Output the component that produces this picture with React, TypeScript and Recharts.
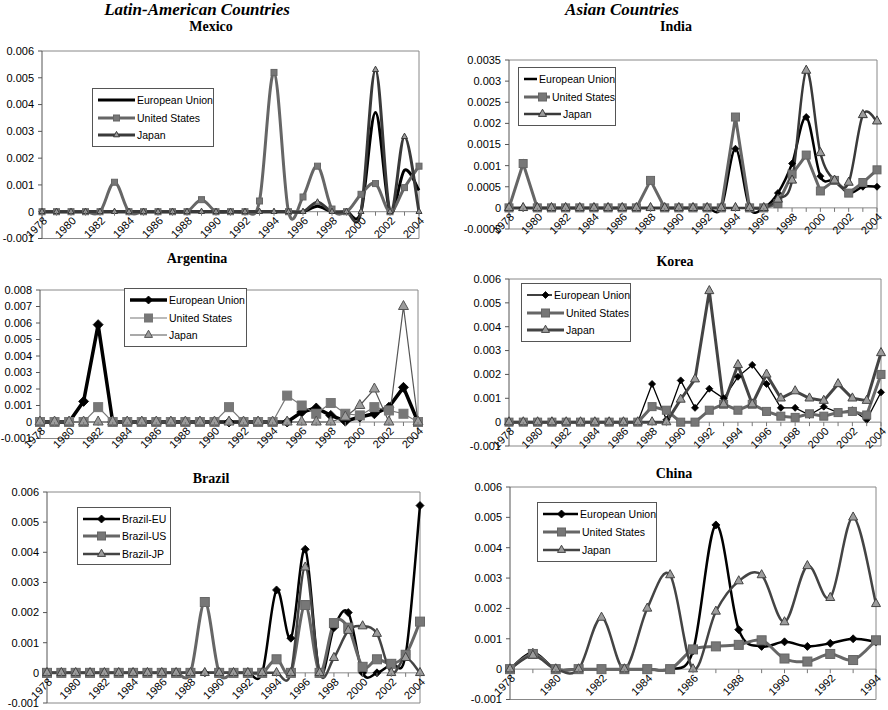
import React from "react";
import { Legend, Line, LineChart, ReferenceLine, XAxis, YAxis } from "recharts";

// ---- data ----
const years = [
  "1978", "1979", "1980", "1981", "1982", "1983", "1984", "1985", "1986", "1987",
  "1988", "1989", "1990", "1991", "1992", "1993", "1994", "1995", "1996", "1997",
  "1998", "1999", "2000", "2001", "2002", "2003", "2004",
];
const yearLabels = ["1978", "1980", "1982", "1984", "1986", "1988", "1990", "1992", "1994", "1996", "1998", "2000", "2002", "2004"];
const chinaYears = [
  "1978", "1979", "1980", "1981", "1982", "1983", "1984", "1985", "1986", "1987",
  "1988", "1989", "1990", "1991", "1992", "1993", "1994",
];
const chinaLabels = ["1978", "1980", "1982", "1984", "1986", "1988", "1990", "1992", "1994"];

const mexicoEU = [0, 0, 0, 0, 0, 0, 0, 0, 0, 0, 0, 0, 0, 0, 0, 0, 0, 0, 0, 0.0002, 0, 0, 0, 0.0037, 0, 0.00155, 0.0008];
const mexicoUS = [0, 0, 0, 0, 0, 0.0011, 0, 0, 0, 0, 0, 0.00045, 0, 0, 0, 0.0004, 0.0052, 0, 0.00055, 0.0017, 0.0001, 0, 0.00065, 0.00105, 0, 0.0009, 0.0017];
const mexicoJP = [0, 0, 0, 0, 0, 0, 0, 0, 0, 0, 0, 0, 0, 0, 0, 0, 0, 0, 0, 0.00035, 0, 0, 0, 0.0053, 0, 0.0028, 0];

const indiaEU = [0, 0, 0, 0, 0, 0, 0, 0, 0, 0, 0, 0, 0, 0, 0, 0, 0.0014, 0, 0, 0.00035, 0.00105, 0.00215, 0.00075, 0.00065, 0.00035, 0.0005, 0.0005];
const indiaUS = [0, 0.00105, 0, 0, 0, 0, 0, 0, 0, 0, 0.00065, 0, 0, 0, 0, 0, 0.00215, 0, 0, 0.0001, 0.0008, 0.00125, 0.0004, 0.00065, 0.00035, 0.0006, 0.0009];
const indiaJP = [0, 0, 0, 0, 0, 0, 0, 0, 0, 0, 0, 0, 0, 0, 0, 0, 0, 0, 0, 0.0002, 0.00065, 0.00325, 0.0013, 0.00065, 0.0006, 0.0022, 0.00205];

const argentinaEU = [0, 0, 0, 0.00125, 0.0059, 0, 0, 0, 0, 0, 0, 0, 0, 0, 0, 0, 0, 0, 0.0006, 0.00085, 0.0004, 0.00005, 0.0003, 0.0005, 0.0009, 0.0021, 0];
const argentinaUS = [0, 0, 0, 0, 0.0009, 0, 0, 0, 0, 0, 0, 0, 0, 0.0009, 0, 0, 0, 0.0016, 0.001, 0.0005, 0.00115, 0.0005, 0.0004, 0.0009, 0.0007, 0.0005, 0];
const argentinaJP = [0, 0, 0, 0, 0, 0, 0, 0, 0, 0, 0, 0, 0, 0, 0, 0, 0, 0, 0, 0, 0, 0.0003, 0.001, 0.002, 0, 0.007, 0];

const koreaEU = [0, 0, 0, 0, 0, 0, 0, 0, 0, 0, 0.0016, 0.0001, 0.00175, 0.0006, 0.0014, 0.001, 0.0019, 0.0024, 0.0016, 0.0006, 0.0006, 0.0003, 0.00065, 0.0004, 0.0005, 0.0001, 0.00125];
const koreaUS = [0, 0, 0, 0, 0, 0, 0, 0, 0, 0, 0.00065, 0.0005, 0, 0, 0.0005, 0.00075, 0.0005, 0.00075, 0.00045, 0.00025, 0.0002, 0.00035, 0.00025, 0.0004, 0.00045, 0.0003, 0.002];
const koreaJP = [0, 0, 0, 0, 0, 0, 0, 0, 0, 0, 0, 0, 0.00095, 0.0018, 0.0055, 0.00075, 0.0024, 0.00075, 0.002, 0.001, 0.0013, 0.001, 0.0009, 0.0016, 0.001, 0.0009, 0.0029];

const brazilEU = [0, 0, 0, 0, 0, 0, 0, 0, 0, 0, 0, 0, 0, 0, 0, 0, 0.00275, 0.00115, 0.0041, 0, 0.0015, 0.002, 0, 0, 0.0003, 0.0006, 0.00555];
const brazilUS = [0, 0, 0, 0, 0, 0, 0, 0, 0, 0, 0, 0.00235, 0, 0, 0, 0, 0.00045, 0, 0.00225, 0, 0.00165, 0.0015, 0.0002, 0.00045, 0.0003, 0.0006, 0.0017];
const brazilJP = [0, 0, 0, 0, 0, 0, 0, 0, 0, 0, 0, 0, 0, 0, 0, 0, 0, 0, 0.0035, 0, 0.0005, 0.0014, 0.00155, 0.0013, 0, 0.0005, 0];

const chinaEU = [0, 0.00055, 0, 0, 0, 0, 0, 0, 0.0006, 0.00475, 0.0013, 0.00075, 0.0009, 0.00075, 0.00085, 0.001, 0.0009];
const chinaUS = [0, 0.0005, 0, 0, 0, 0, 0, 0, 0.00065, 0.00075, 0.0008, 0.00095, 0.00035, 0.00025, 0.0005, 0.0003, 0.00095];
const chinaJP = [0, 0.00045, 0, 0, 0.0017, 0, 0.002, 0.0031, 0, 0.0019, 0.0029, 0.0031, 0.00155, 0.0034, 0.00235, 0.005, 0.00215];

const ticks6 = [-0.001, 0, 0.001, 0.002, 0.003, 0.004, 0.005, 0.006];
const ticks8 = [-0.001, 0, 0.001, 0.002, 0.003, 0.004, 0.005, 0.006, 0.007, 0.008];
const ticksIndia = [-0.0005, 0, 0.0005, 0.001, 0.0015, 0.002, 0.0025, 0.003, 0.0035];

// ---- drawing helpers ----
const SANS = "'Liberation Sans', Arial, sans-serif";
const SERIF = "'Liberation Serif', 'Times New Roman', serif";
const Y_W = 50;
const M_TOP = 6;
const M_RIGHT = 10;
const X_H = 30;

// Excel-style smoothed line (Catmull-Rom through the points)
const excelSmooth = (context: any) => {
  let pts: number[][] = [];
  return {
    areaStart() {},
    areaEnd() {},
    lineStart() {
      pts = [];
    },
    point(x: number, y: number) {
      pts.push([+x, +y]);
    },
    lineEnd() {
      if (!pts.length) return;
      context.moveTo(pts[0][0], pts[0][1]);
      for (let i = 0; i < pts.length - 1; i++) {
        const p0 = pts[Math.max(i - 1, 0)];
        const p1 = pts[i];
        const p2 = pts[i + 1];
        const p3 = pts[Math.min(i + 2, pts.length - 1)];
        context.bezierCurveTo(
          p1[0] + (p2[0] - p0[0]) / 6,
          p1[1] + (p2[1] - p0[1]) / 6,
          p2[0] - (p3[0] - p1[0]) / 6,
          p2[1] - (p3[1] - p1[1]) / 6,
          p2[0],
          p2[1]
        );
      }
    },
  };
};

type MarkerKind = "none" | "diamond" | "square" | "triangle";

interface SeriesCfg {
  key: string;
  name: string;
  values: number[];
  color: string;
  width: number;
  marker: MarkerKind;
  size: number;
  fill: string;
  smooth: boolean;
}

function Marker({ kind, cx, cy, size, fill, stroke }: { kind: MarkerKind; cx: number; cy: number; size: number; fill: string; stroke: string }) {
  if (kind === "diamond") {
    const r = size / 2;
    return <path d={`M${cx},${cy - r}L${cx + r},${cy}L${cx},${cy + r}L${cx - r},${cy}Z`} fill={fill} stroke={stroke} strokeWidth={0.8} />;
  }
  if (kind === "square") {
    return <rect x={cx - size / 2} y={cy - size / 2} width={size} height={size} fill={fill} stroke={stroke} strokeWidth={1} />;
  }
  if (kind === "triangle") {
    const h = size * 0.9;
    return (
      <path
        d={`M${cx},${cy - (h * 2) / 3}L${cx + size / 2},${cy + h / 3}L${cx - size / 2},${cy + h / 3}Z`}
        fill={fill}
        stroke={stroke}
        strokeWidth={1}
      />
    );
  }
  return null;
}

interface PanelCfg {
  title: string;
  titleX: number;
  titleY: number;
  years: string[];
  labels: string[];
  domain: [number, number];
  ticks: number[];
  plot: { left: number; top: number; right: number; bottom: number };
  legend: { left: number; top: number; width: number; height: number };
  series: SeriesCfg[];
}

const eu = (values: number[], name: string, width: number, marker: MarkerKind, size: number, smooth: boolean): SeriesCfg => ({
  key: "eu", name, values, color: "#000", width, marker, size, fill: "#000", smooth,
});
const us = (values: number[], name: string, width: number, color: string, size: number, smooth: boolean): SeriesCfg => ({
  key: "us", name, values, color, width, marker: "square", size, fill: "#777", smooth,
});
const jp = (values: number[], name: string, width: number, color: string, size: number, smooth: boolean): SeriesCfg => ({
  key: "jp", name, values, color, width, marker: "triangle", size, fill: "#9c9c9c", smooth,
});

const panels: PanelCfg[] = [
  {
    title: "Mexico", titleX: 211, titleY: 27, years, labels: yearLabels,
    domain: [-0.001, 0.006], ticks: ticks6,
    plot: { left: 42, top: 51, right: 419, bottom: 238.5 },
    legend: { left: 92, top: 88, width: 122, height: 59 },
    series: [
      eu(mexicoEU, "European Union", 3, "none", 0, true),
      us(mexicoUS, "United States", 3, "#666", 6, true),
      jp(mexicoJP, "Japan", 3, "#3a3a3a", 6, true),
    ],
  },
  {
    title: "India", titleX: 676, titleY: 27, years, labels: yearLabels,
    domain: [-0.0005, 0.0035], ticks: ticksIndia,
    plot: { left: 509, top: 60, right: 877, bottom: 229 },
    legend: { left: 518, top: 67, width: 98, height: 59 },
    series: [
      eu(indiaEU, "European Union", 2.5, "diamond", 7, true),
      us(indiaUS, "United States", 3, "#666", 8, false),
      jp(indiaJP, "Japan", 2.5, "#3a3a3a", 9, true),
    ],
  },
  {
    title: "Argentina", titleX: 197, titleY: 259, years, labels: yearLabels,
    domain: [-0.001, 0.008], ticks: ticks8,
    plot: { left: 40, top: 290, right: 418, bottom: 438.5 },
    legend: { left: 124, top: 288, width: 123, height: 59 },
    series: [
      eu(argentinaEU, "European Union", 3.5, "diamond", 10, false),
      us(argentinaUS, "United States", 1.2, "#777", 9, false),
      jp(argentinaJP, "Japan", 1.2, "#555", 10, false),
    ],
  },
  {
    title: "Korea", titleX: 675, titleY: 262, years, labels: yearLabels,
    domain: [-0.001, 0.006], ticks: ticks6,
    plot: { left: 509, top: 279, right: 881, bottom: 446 },
    legend: { left: 521, top: 283, width: 110, height: 59 },
    series: [
      eu(koreaEU, "European Union", 1.3, "diamond", 7, false),
      us(koreaUS, "United States", 3, "#666", 8, false),
      jp(koreaJP, "Japan", 3, "#444", 9, false),
    ],
  },
  {
    title: "Brazil", titleX: 211, titleY: 479, years, labels: yearLabels,
    domain: [-0.001, 0.006], ticks: ticks6,
    plot: { left: 47, top: 492, right: 420, bottom: 703 },
    legend: { left: 77, top: 507, width: 94, height: 58 },
    series: [
      eu(brazilEU, "Brazil-EU", 2.5, "diamond", 8, true),
      us(brazilUS, "Brazil-US", 3, "#666", 9, true),
      jp(brazilJP, "Brazil-JP", 2.5, "#444", 9, true),
    ],
  },
  {
    title: "China", titleX: 674, titleY: 474, years: chinaYears, labels: chinaLabels,
    domain: [-0.001, 0.006], ticks: ticks6,
    plot: { left: 510, top: 487, right: 876, bottom: 699.5 },
    legend: { left: 537, top: 502, width: 120, height: 60 },
    series: [
      eu(chinaEU, "European Union", 2.5, "diamond", 8, true),
      us(chinaUS, "United States", 3, "#666", 9, true),
      jp(chinaJP, "Japan", 2.5, "#444", 9, true),
    ],
  },
];

function Panel({ cfg }: { cfg: PanelCfg }) {
  const { plot, domain } = cfg;
  const left = plot.left - Y_W;
  const top = plot.top - M_TOP;
  const width = plot.right - plot.left + Y_W + M_RIGHT;
  const height = plot.bottom - plot.top + M_TOP + X_H;
  const plotH = plot.bottom - plot.top;
  const zeroY = M_TOP + (plotH * domain[1]) / (domain[1] - domain[0]);
  const labelSet = new Set(cfg.labels);
  const order = cfg.series.map((s) => s.key);
  const byKey: Record<string, SeriesCfg> = {};
  cfg.series.forEach((s) => (byKey[s.key] = s));

  const data = cfg.years.map((year, i) => {
    const row: Record<string, string | number> = { year };
    cfg.series.forEach((s) => (row[s.key] = s.values[i]));
    return row;
  });

  const renderXTick = (props: any) => {
    const { x, payload } = props;
    const v = String(payload.value);
    return (
      <g>
        <line x1={x} x2={x} y1={zeroY} y2={zeroY + 4} stroke="#777" />
        {labelSet.has(v) && (
          <text
            x={0}
            y={0}
            dy="0.35em"
            transform={`translate(${x + 3},${zeroY + 7}) rotate(-45)`}
            textAnchor="end"
            fontSize={11}
            fontFamily={SANS}
            fill="#000"
          >
            {v}
          </text>
        )}
      </g>
    );
  };

  const renderLegend = (props: any) => {
    const items = [...(props.payload || [])].sort(
      (a: any, b: any) => order.indexOf(a.dataKey) - order.indexOf(b.dataKey)
    );
    return (
      <div
        style={{
          width: "100%",
          height: "100%",
          boxSizing: "border-box",
          border: "1px solid #555",
          background: "#fff",
          display: "flex",
          flexDirection: "column",
          justifyContent: "space-evenly",
          paddingLeft: 5,
        }}
      >
        {items.map((entry: any) => {
          const s = byKey[entry.dataKey];
          return (
            <div key={entry.dataKey} style={{ display: "flex", alignItems: "center", height: 14 }}>
              <svg width={37} height={14}>
                <line x1={0} x2={37} y1={7} y2={7} stroke={s.color} strokeWidth={s.width} />
                <Marker kind={s.marker} cx={18.5} cy={7} size={Math.min(s.size, 8)} fill={s.fill} stroke={s.color} />
              </svg>
              <span style={{ fontFamily: SANS, fontSize: 10.5, marginLeft: 2, color: "#000", whiteSpace: "nowrap" }}>
                {entry.value}
              </span>
            </div>
          );
        })}
      </div>
    );
  };

  const lastYear = cfg.years[cfg.years.length - 1];

  return (
    <>
      <div
        style={{
          position: "absolute",
          left: cfg.titleX,
          top: cfg.titleY,
          transform: "translate(-50%, -50%)",
          fontFamily: SERIF,
          fontWeight: "bold",
          fontSize: 14,
          whiteSpace: "nowrap",
        }}
      >
        {cfg.title}
      </div>
      <div style={{ position: "absolute", left, top, width, height }}>
        <LineChart width={width} height={height} data={data} margin={{ top: M_TOP, right: M_RIGHT, bottom: 0, left: 0 }}>
          <XAxis
            dataKey="year"
            interval={0}
            height={X_H}
            tickLine={false}
            axisLine={{ stroke: "#888" }}
            tick={renderXTick}
          />
          <YAxis
            type="number"
            width={Y_W}
            domain={domain}
            ticks={cfg.ticks}
            interval={0}
            tickSize={4}
            tickMargin={4}
            tickLine={{ stroke: "#555" }}
            axisLine={{ stroke: "#555" }}
            tick={{ fontSize: 11, fontFamily: SANS, fill: "#000" }}
            tickFormatter={(v: number) => String(v)}
          />
          <ReferenceLine y={0} stroke="#888" />
          <ReferenceLine y={domain[1]} stroke="#888" />
          <ReferenceLine x={lastYear} stroke="#888" />
          <Legend
            layout="vertical"
            align="center"
            verticalAlign="middle"
            content={renderLegend}
            wrapperStyle={{
              left: cfg.legend.left - left,
              top: cfg.legend.top - top,
              width: cfg.legend.width,
              height: cfg.legend.height,
            }}
          />
          {cfg.series.map((s) => (
            <Line
              key={s.key}
              dataKey={s.key}
              name={s.name}
              type={s.smooth ? (excelSmooth as any) : "linear"}
              stroke={s.color}
              strokeWidth={s.width}
              dot={
                s.marker === "none"
                  ? false
                  : (p: any) => (
                      <Marker
                        key={`${s.key}-${p.index}`}
                        kind={s.marker}
                        cx={p.cx}
                        cy={p.cy}
                        size={s.size}
                        fill={s.fill}
                        stroke={s.color}
                      />
                    )
              }
              activeDot={false}
              isAnimationActive={false}
            />
          ))}
        </LineChart>
      </div>
    </>
  );
}

export default function App() {
  const header = {
    position: "absolute" as const,
    top: 10,
    transform: "translate(-50%, -50%)",
    fontFamily: SERIF,
    fontWeight: "bold",
    fontStyle: "italic",
    fontSize: 17,
    lineHeight: "18px",
    whiteSpace: "nowrap" as const,
  };
  return (
    <div style={{ position: "absolute", left: 0, top: 0, width: 888, height: 710, overflow: "hidden", background: "#fff" }}>
      <div style={{ ...header, left: 197 }}>Latin-American Countries</div>
      <div style={{ ...header, left: 622 }}>Asian Countries</div>
      {panels.map((p) => (
        <Panel key={p.title} cfg={p} />
      ))}
    </div>
  );
}
